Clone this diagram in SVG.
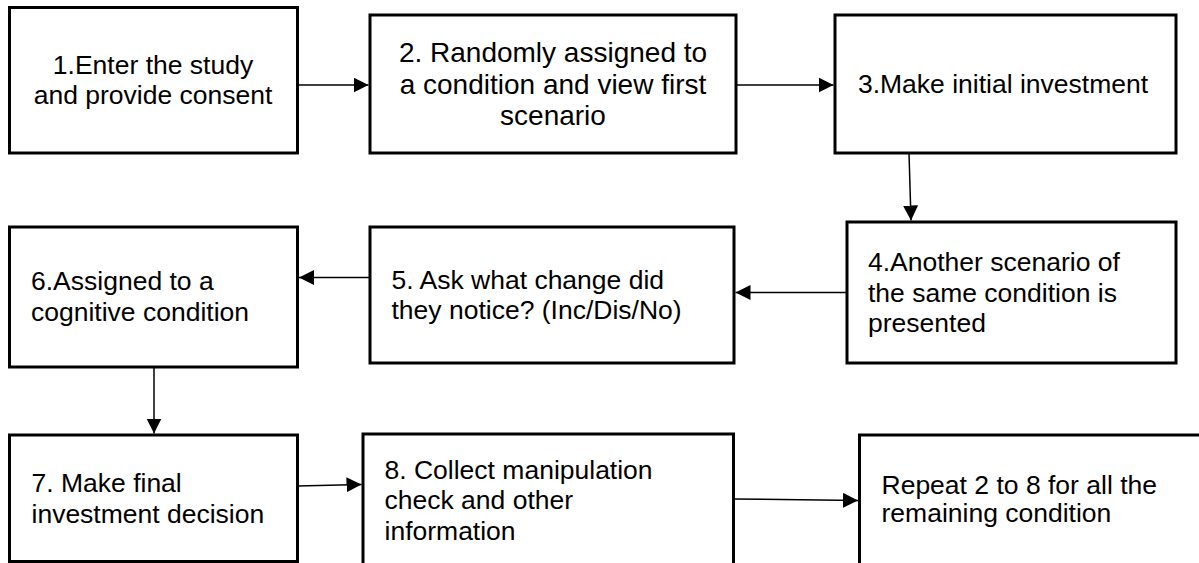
<svg xmlns="http://www.w3.org/2000/svg" width="1199" height="563" viewBox="0 0 1199 563">
<style>
.box{fill:#fff;stroke:#000;stroke-width:3;stroke-linejoin:miter}
.t{font-family:"Liberation Sans",Arial,sans-serif;font-size:26.5px;fill:#000}
.c{text-anchor:middle}
.con{stroke:#000;stroke-width:1.5;fill:none;marker-end:url(#arr)}
</style>
<defs>
<marker id="arr" markerUnits="userSpaceOnUse" markerWidth="16" markerHeight="16" refX="15" refY="7.5" orient="auto" viewBox="0 0 16 16">
<path d="M0,0 L15,7.5 L0,15 z" fill="#000"/>
</marker>
</defs>
<rect x="0" y="0" width="1199" height="563" fill="#fff"/>
<g id="connectors">
<path class="con" d="M297.5,85 H368.5"/>
<path class="con" d="M736,85 H833.5"/>
<path class="con" d="M909,153 L911,220.5"/>
<path class="con" d="M847,292.5 H735.5"/>
<path class="con" d="M370,277.5 H299"/>
<path class="con" d="M154,367 V433.5"/>
<path class="con" d="M297.5,486 L361.5,484.5"/>
<path class="con" d="M733,499 L858,500.5"/>
</g>
<g id="n1">
<rect class="box" x="9.5" y="7.5" width="288" height="145.5"/>
<text class="t c" x="153" y="74">1.Enter the study</text>
<text class="t c" x="153" y="104">and provide consent</text>
</g>
<g id="n2">
<rect class="box" x="370" y="15" width="366" height="138"/>
<text class="t c" style="font-size:28px" x="553" y="62">2. Randomly assigned to</text>
<text class="t c" style="font-size:28px" x="553" y="93.5">a condition and view first</text>
<text class="t c" style="font-size:28px" x="553" y="125">scenario</text>
</g>
<g id="n3">
<rect class="box" x="835" y="15" width="341" height="138"/>
<text class="t c" x="1003" y="93">3.Make initial investment</text>
</g>
<g id="n4">
<rect class="box" x="847" y="222" width="329" height="141"/>
<text class="t" x="868" y="271">4.Another scenario of</text>
<text class="t" x="868" y="301.5">the same condition is</text>
<text class="t" x="868" y="332">presented</text>
</g>
<g id="n5">
<rect class="box" x="370" y="227" width="364" height="136"/>
<text class="t" x="391.5" y="289">5. Ask what change did</text>
<text class="t" x="391.5" y="318.5">they notice? (Inc/Dis/No)</text>
</g>
<g id="n6">
<rect class="box" x="9.5" y="227" width="288" height="140"/>
<text class="t" x="31" y="290">6.Assigned to a</text>
<text class="t" x="31" y="321">cognitive condition</text>
</g>
<g id="n7">
<rect class="box" x="9.5" y="435" width="288" height="126.5"/>
<text class="t" x="31.5" y="491.5">7. Make final</text>
<text class="t" x="31.5" y="522.5">investment decision</text>
</g>
<g id="n8">
<rect class="box" x="363" y="434" width="370.5" height="130.5"/>
<text class="t" x="384.5" y="478.5">8. Collect manipulation</text>
<text class="t" x="384.5" y="509">check and other</text>
<text class="t" x="384.5" y="540">information</text>
</g>
<g id="n9">
<rect class="box" x="859.5" y="435" width="360" height="129.5"/>
<text class="t" x="881.5" y="493.5">Repeat 2 to 8 for all the</text>
<text class="t" x="881.5" y="522">remaining condition</text>
</g>
</svg>
